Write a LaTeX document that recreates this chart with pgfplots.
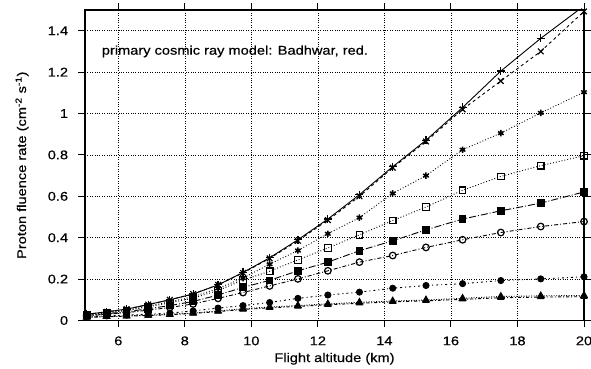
\documentclass[border=0pt]{standalone}
\usepackage{pgfplots}
\pgfplotsset{compat=1.18}
\usepackage{fontspec}
\setmainfont{Liberation Sans}[FakeStretch=1.16, FakeBold=0.4]
\begin{document}
\fontsize{12.6pt}{14pt}\selectfont
\begin{tikzpicture}[x=1pt,y=1pt]
\begin{axis}[
  scale only axis,
  width=499pt, height=310.5pt,
  xmin=5, xmax=20, ymin=0, ymax=1.5,
  xtick={6,8,10,12,14,16,18,20},
  ytick={0,0.2,0.4,0.6,0.8,1,1.2,1.4},
  yticklabels={0,0.2,0.4,0.6,0.8,1,1.2,1.4},
  /pgf/number format/assume math mode=true,
  tick label style={font=\fontsize{12.6pt}{14pt}\selectfont},
  label style={font=\fontsize{12.6pt}{14pt}\selectfont},
  tick align=outside,
  major tick length=6.5pt,
  tick style={black, line width=1pt},
  axis line style={line width=1.2pt},
  grid=major,
  grid style={black, dotted, line width=0.6pt},
  xlabel={Flight altitude (km)},
  ylabel={Proton fluence rate (cm\textsuperscript{-2} s\textsuperscript{-1})},
  xlabel style={at={(axis description cs:0.5,0)}, anchor=north, yshift=-28pt},
  ylabel style={at={(axis description cs:0,0.5)}, anchor=south, yshift=52pt},
  yticklabel style={xshift=-6pt},
  xticklabel style={yshift=-5pt},
  every axis plot/.append style={black, line width=0.9pt, mark size=3pt, mark options={solid, line width=1pt}},
  clip=true,
]
% A solid +
\addplot[solid, mark=+, mark size=4pt, mark options={solid, line width=1.2pt}] coordinates {
(5.05,0.030)(5.65,0.042)(6.25,0.055)(6.9,0.077)(7.55,0.100)(8.25,0.128)(9.0,0.172)(9.75,0.232)(10.55,0.303)(11.4,0.390)(12.3,0.490)(13.25,0.608)(14.25,0.743)(15.25,0.871)(16.35,1.029)(17.5,1.205)(18.7,1.363)(20.0,1.52)};
% B dashed x
\addplot[dashed, mark=x, mark size=4pt, mark options={solid, line width=1.2pt}] coordinates {
(5.05,0.030)(5.65,0.042)(6.25,0.055)(6.9,0.077)(7.55,0.100)(8.25,0.128)(9.0,0.172)(9.75,0.230)(10.55,0.300)(11.4,0.385)(12.3,0.485)(13.25,0.600)(14.25,0.738)(15.25,0.865)(16.35,1.020)(17.5,1.157)(18.7,1.300)(20.0,1.493)};
% C dotted asterisk
\addplot[dotted, mark=asterisk, mark size=3.2pt, mark options={solid, line width=1.5pt}] coordinates {
(5.05,0.028)(5.65,0.039)(6.25,0.050)(6.9,0.070)(7.55,0.090)(8.25,0.115)(9.0,0.155)(9.75,0.205)(10.55,0.272)(11.4,0.338)(12.3,0.419)(13.25,0.497)(14.25,0.614)(15.25,0.700)(16.35,0.825)(17.5,0.905)(18.7,1.003)(20.0,1.103)};
% D dotted open square
\addplot[dotted, mark=square, mark size=3.3pt, mark options={solid, line width=1.2pt}] coordinates {
(5.05,0.026)(5.65,0.037)(6.25,0.048)(6.9,0.066)(7.55,0.085)(8.25,0.108)(9.0,0.145)(9.75,0.195)(10.55,0.238)(11.4,0.293)(12.3,0.350)(13.25,0.414)(14.25,0.483)(15.25,0.548)(16.35,0.629)(17.5,0.696)(18.7,0.748)(20.0,0.796)};
% E dash-dot long, filled square
\addplot[dash pattern=on 7pt off 2pt on 1pt off 2pt, mark=square*, mark size=3.3pt] coordinates {
(5.05,0.024)(5.65,0.033)(6.25,0.042)(6.9,0.057)(7.55,0.072)(8.25,0.092)(9.0,0.123)(9.75,0.160)(10.55,0.194)(11.4,0.240)(12.3,0.282)(13.25,0.337)(14.25,0.385)(15.25,0.438)(16.35,0.490)(17.5,0.530)(18.7,0.567)(20.0,0.621)};
% F dash-dot, open circle
\addplot[dash pattern=on 4pt off 2pt on 1pt off 2pt, mark=o, mark size=3.3pt, mark options={solid, line width=1.2pt}] coordinates {
(5.05,0.022)(5.65,0.030)(6.25,0.038)(6.9,0.050)(7.55,0.063)(8.25,0.080)(9.0,0.107)(9.75,0.135)(10.55,0.167)(11.4,0.201)(12.3,0.240)(13.25,0.282)(14.25,0.314)(15.25,0.353)(16.35,0.390)(17.5,0.425)(18.7,0.454)(20.0,0.478)};
% G short dashes, filled circle
\addplot[dash pattern=on 2pt off 3pt on 1pt off 3pt, mark=*, mark size=3pt] coordinates {
(5.05,0.018)(5.65,0.022)(6.25,0.026)(6.9,0.031)(7.55,0.036)(8.25,0.046)(9.0,0.060)(9.75,0.072)(10.55,0.087)(11.4,0.107)(12.3,0.123)(13.25,0.137)(14.25,0.156)(15.25,0.169)(16.35,0.178)(17.5,0.193)(18.7,0.201)(20.0,0.211)};
% H densely dotted, filled triangle
\addplot[dash pattern=on 1pt off 1.5pt, mark=triangle*, mark size=3.8pt] coordinates {
(5.05,0.016)(5.65,0.019)(6.25,0.022)(6.9,0.026)(7.55,0.030)(8.25,0.036)(9.0,0.046)(9.75,0.057)(10.55,0.065)(11.4,0.072)(12.3,0.080)(13.25,0.088)(14.25,0.094)(15.25,0.099)(16.35,0.107)(17.5,0.116)(18.7,0.119)(20.0,0.121)};
% I short dashed, filled triangle
\addplot[dash pattern=on 3pt off 2pt on 1pt off 2pt, mark=triangle*, mark size=3.2pt] coordinates {
(5.05,0.015)(5.65,0.018)(6.25,0.021)(6.9,0.024)(7.55,0.028)(8.25,0.034)(9.0,0.043)(9.75,0.053)(10.55,0.061)(11.4,0.068)(12.3,0.076)(13.25,0.083)(14.25,0.090)(15.25,0.095)(16.35,0.102)(17.5,0.110)(18.7,0.113)(20.0,0.115)};
\node[anchor=west, font=\fontsize{12.6pt}{14pt}\selectfont, inner sep=0pt] at (axis cs:5.5,1.30) {primary cosmic ray model: Badhwar, red.};
\end{axis}
\pgfresetboundingbox
\path (-85pt,-48.5pt) rectangle (506pt,320.5pt);
\end{tikzpicture}
\end{document}
